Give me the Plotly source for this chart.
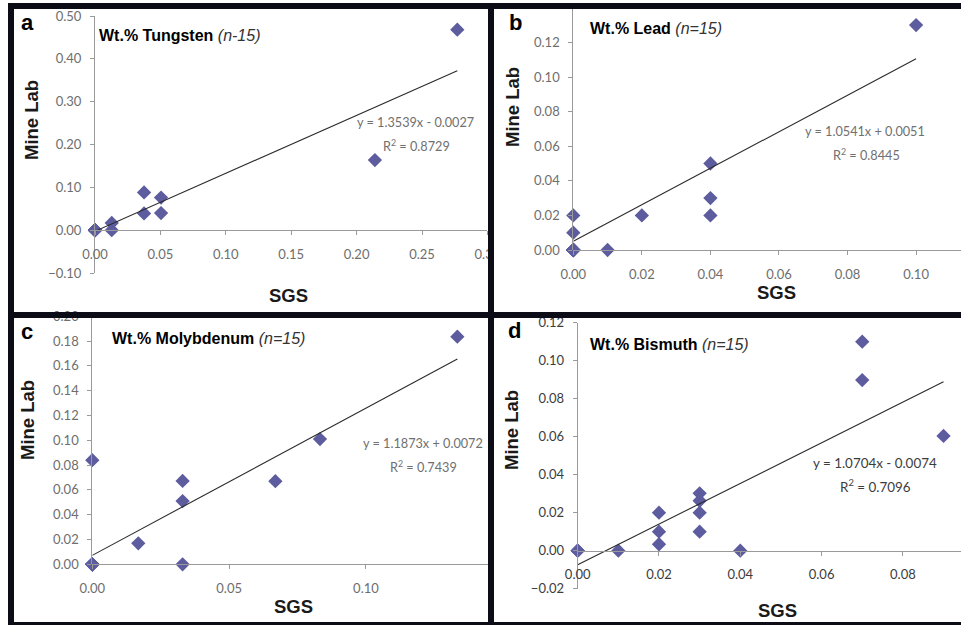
import plotly.graph_objects as go

W, H = 961, 627

# ---------------- data ----------------
tungsten_sgs = [0, 0, 0, 0, 0, 0, 0, 0.0128, 0.0128, 0.0375, 0.0375, 0.0505, 0.0505, 0.214, 0.277]
tungsten_lab = [0, 0, 0, 0, 0, 0, 0, 0.017, 0.0, 0.088, 0.039, 0.076, 0.040, 0.1636, 0.468]

lead_sgs = [0, 0, 0, 0, 0, 0, 0, 0, 0, 0.01, 0.02, 0.04, 0.04, 0.04, 0.10]
lead_lab = [0, 0, 0, 0, 0, 0, 0, 0.01, 0.02, 0.0, 0.02, 0.05, 0.03, 0.02, 0.13]

moly_sgs = [0, 0, 0, 0, 0, 0, 0, 0, 0.0168, 0.033, 0.033, 0.033, 0.0669, 0.0832, 0.1334]
moly_lab = [0, 0, 0, 0, 0, 0, 0, 0.084, 0.0169, 0.0672, 0.051, 0.0, 0.067, 0.101, 0.1836]

bismuth_sgs = [0, 0, 0, 0.01, 0.02, 0.02, 0.02, 0.03, 0.03, 0.03, 0.03, 0.04, 0.07, 0.07, 0.09]
bismuth_lab = [0, 0, 0, 0.0, 0.02, 0.01, 0.0034, 0.0302, 0.0263, 0.02, 0.01, 0.0, 0.11, 0.0898, 0.0604]

panel_letters = ["a", "b", "c", "d"]
elements = ["Wt.% Tungsten", "Wt.% Lead", "Wt.% Molybdenum", "Wt.% Bismuth"]
sample_notes = ["(n-15)", "(n=15)", "(n=15)", "(n=15)"]
slopes = [1.3539, 1.0541, 1.1873, 1.0704]
intercepts = [-0.0027, 0.0051, 0.0072, -0.0074]
r_squared = ["0.8729", "0.8445", "0.7439", "0.7096"]
equations = ["y = 1.3539x - 0.0027", "y = 1.0541x + 0.0051",
             "y = 1.1873x + 0.0072", "y = 1.0704x - 0.0074"]

xs = [tungsten_sgs, lead_sgs, moly_sgs, bismuth_sgs]
ys = [tungsten_lab, lead_lab, moly_lab, bismuth_lab]

# ---------------- layout geometry (pixels) ----------------
def px(x):
    return x / W

def py(y):
    return 1 - y / H

panels = [
    dict(xdom=(95, 487.4), xr=(0, 0.30), xd=0.05, ydom=(16, 273), yr=(-0.10, 0.50), yd=0.10,
         letter=(27, 22), title=(97, 35), eq=(415, 122), r2=(416, 145), ylab=(31, 120), xlab=(288, 295),
         tickcol="#6e6e6e", eqcol="#707070", eqsize=12.7),
    dict(xdom=(573.3, 961), xr=(0, 0.1131), xd=0.02, ydom=(7.8, 250), yr=(0, 0.14), yd=0.02,
         letter=(515, 22), title=(588, 29), eq=(865, 131), r2=(866, 154), ylab=(513, 107), xlab=(776, 292),
         tickcol="#6e6e6e", eqcol="#707070", eqsize=12.7),
    dict(xdom=(92.3, 488), xr=(0, 0.1446), xd=0.05, ydom=(316.3, 564.3), yr=(0, 0.20), yd=0.02,
         letter=(27, 331), title=(110, 338), eq=(423, 443), r2=(423, 466), ylab=(27, 420), xlab=(293, 606),
         tickcol="#6e6e6e", eqcol="#707070", eqsize=12.7),
    dict(xdom=(577.7, 961), xr=(0, 0.0943), xd=0.02, ydom=(322.7, 588.7), yr=(-0.02, 0.12), yd=0.02,
         letter=(514, 330), title=(588, 344), eq=(875, 463), r2=(875, 486), ylab=(512, 430), xlab=(777, 610),
         tickcol="#3c3c3c", eqcol="#3c3c3c", eqsize=13.4),
]

MARKER = "#5c5c9e"
AXIS = "#9a9a9a"
TICKFONT = "Lato"
BOLD = "Liberation Sans"

fig = go.Figure()
layout = dict(width=W, height=H, margin=dict(l=0, r=0, t=0, b=0, autoexpand=False),
              template="none", paper_bgcolor="white", plot_bgcolor="rgba(0,0,0,0)",
              showlegend=False)
annotations = []
shapes = []

for i, p in enumerate(panels):
    n = "" if i == 0 else str(i + 1)
    xa, ya = "x" + n, "y" + n
    # scatter points
    fig.add_trace(go.Scatter(x=xs[i], y=ys[i], mode="markers", xaxis=xa, yaxis=ya,
                             marker=dict(symbol="diamond", size=11, color=MARKER,
                                         line=dict(width=0)),
                             cliponaxis=False))
    # linear trendline from the regression equation
    x0, x1 = min(xs[i]), max(xs[i])
    fig.add_trace(go.Scatter(x=[x0, x1],
                             y=[slopes[i] * x0 + intercepts[i], slopes[i] * x1 + intercepts[i]],
                             mode="lines", xaxis=xa, yaxis=ya,
                             line=dict(color="#2b2b2b", width=1.1), cliponaxis=False))

    ydom = (py(p["ydom"][1]), py(p["ydom"][0]))
    ymin, ymax = p["yr"]
    xpos = ydom[0] + (0 - ymin) / (ymax - ymin) * (ydom[1] - ydom[0])
    tf = dict(family=TICKFONT, size=13, color=p["tickcol"])
    layout["xaxis" + n] = dict(domain=[px(p["xdom"][0]), px(p["xdom"][1])], range=list(p["xr"]),
                               anchor="free", position=xpos, dtick=p["xd"], tick0=0,
                               tickformat=".2f", showline=True, linecolor=AXIS, linewidth=1,
                               ticks="outside", ticklen=4, tickcolor=AXIS, showgrid=False,
                               zeroline=False, tickfont=tf, ticklabelstandoff=8,
                               automargin=False)
    layout["yaxis" + n] = dict(domain=list(ydom), range=list(p["yr"]), anchor=xa,
                               dtick=p["yd"], tick0=0, tickformat=".2f", showline=True,
                               linecolor=AXIS, linewidth=1, ticks="outside", ticklen=4,
                               tickcolor=AXIS, showgrid=False, zeroline=False, tickfont=tf,
                               ticklabelstandoff=6, automargin=False)

    def ann(text, pos, size, color="#111111", family=BOLD, xanchor="center", angle=0):
        annotations.append(dict(text=text, x=px(pos[0]), y=py(pos[1]), xref="paper", yref="paper",
                                showarrow=False, xanchor=xanchor, yanchor="middle", textangle=angle,
                                font=dict(family=family, size=size, color=color)))

    ann("<b>%s</b>" % panel_letters[i], p["letter"], 22, "#000000")
    ann("<b>%s</b> <i><span style='font-family:Liberation Sans;color:#333333'>%s</span></i>"
        % (elements[i], sample_notes[i]), p["title"], 16, "#000000", xanchor="left")
    ann(equations[i], p["eq"], p["eqsize"], p["eqcol"], TICKFONT)
    ann("R<sup>2</sup> = %s" % r_squared[i], p["r2"], p["eqsize"], p["eqcol"], TICKFONT)
    ann("<b>Mine Lab</b>", p["ylab"], 18.5, "#1a1a1a", angle=-90)
    ann("<b>SGS</b>", p["xlab"], 18.5, "#1a1a1a")

# frame bars (black borders of the composite figure)
BORDER = "#0c0c16"
def rect(x0, y0, x1, y1, color):
    shapes.append(dict(type="rect", xref="paper", yref="paper", x0=px(x0), x1=px(x1),
                       y0=py(y1), y1=py(y0), fillcolor=color, line=dict(width=0), layer="above"))

rect(494, 244, 504, 268, "white")   # clip the cut-off "0.30" label
rect(8, 3, 14, 625, BORDER)
rect(8, 3, 961, 9, BORDER)
rect(488, 3, 494, 625, BORDER)
rect(8, 312, 961, 318, BORDER)
rect(8, 622, 961, 625, BORDER)

layout["annotations"] = annotations
layout["shapes"] = shapes
fig.update_layout(**layout)
fig.write_html("out.html", config={"displayModeBar": False},
               post_script="document.body.style.margin='0';document.body.style.overflow='hidden';")
